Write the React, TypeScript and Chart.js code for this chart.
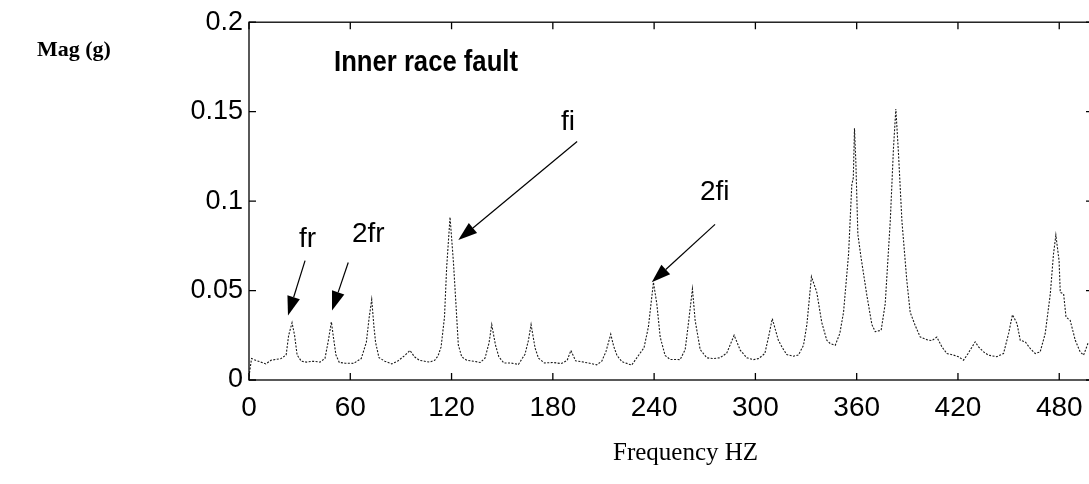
import React, { useEffect, useRef } from "react";
import { Chart, registerables } from "chart.js";

Chart.register(...registerables);

const freqs = [
  0, 1.5, 4, 7, 10, 13, 16, 19, 22, 23.5, 25.5, 27, 28.5, 31, 34, 38, 42, 45, 47, 48.8, 50, 51.5, 53.5, 57, 62, 66.5, 69.5, 71.2, 72.7, 74, 75, 77, 80.5, 84.5, 88, 92, 95.4, 98, 101, 104, 107, 110, 112, 113.8, 115.8, 117.1, 119.1, 121.1, 122.5, 124, 126, 129, 133, 137, 139.8, 142.2, 143.8, 146, 148, 151, 155, 159.6, 163.5, 165.5, 167.1, 169.5, 171.5, 175, 180, 185, 188.5, 190.7, 193.5, 197, 201, 206, 209, 211.5, 214.3, 216, 218, 221, 223.8, 226.7, 230.7, 234, 236.6, 239.6, 241.6, 243.6, 246.5, 249.5, 255.4, 258.4, 260.3, 262.7, 264.3, 267.3, 271.2, 275, 279, 283, 287.4, 291, 294.9, 298.8, 302, 305.6, 308, 310, 313.6, 316, 318.6, 322.6, 325.5, 328.5, 330.5, 333.2, 336.4, 339.3, 342.3, 344.3, 347.3, 350, 352.2, 355.2, 357.1, 358, 358.7, 359.5, 360.7, 362.5, 366, 369, 371, 374.5, 376.9, 379.9, 381.8, 383.2, 384.8, 386.8, 389.7, 391.7, 394.7, 397.6, 401.6, 404.5, 407.5, 410.5, 413.4, 417.4, 420.3, 423.3, 426, 430.2, 432.2, 435.2, 438, 443, 447, 450, 452.3, 455, 456.9, 459.9, 462.8, 465.8, 468.7, 471.7, 474.7, 476.6, 478, 479.9, 480.6, 482.6, 484, 486.5, 489.5, 492.4, 494.4, 497, 500,
];

const magnitudes = [
  0.002, 0.012, 0.011, 0.01, 0.009, 0.011, 0.0115, 0.012, 0.014, 0.025, 0.032, 0.025, 0.014, 0.0105, 0.01, 0.0105, 0.01, 0.012, 0.022, 0.0325, 0.024, 0.014, 0.0098, 0.0094, 0.0093, 0.012, 0.021, 0.035, 0.045, 0.03, 0.021, 0.0125, 0.0105, 0.009, 0.0105, 0.0135, 0.0165, 0.013, 0.011, 0.0105, 0.01, 0.011, 0.0135, 0.0185, 0.035, 0.063, 0.091, 0.066, 0.044, 0.0196, 0.013, 0.011, 0.0105, 0.0098, 0.0122, 0.0207, 0.031, 0.0196, 0.013, 0.0095, 0.0095, 0.0087, 0.0144, 0.022, 0.031, 0.0178, 0.0122, 0.0095, 0.0098, 0.0092, 0.011, 0.0165, 0.0107, 0.0102, 0.0095, 0.0085, 0.0105, 0.016, 0.0256, 0.019, 0.0137, 0.0102, 0.0093, 0.0083, 0.0137, 0.018, 0.0296, 0.0546, 0.0425, 0.024, 0.0137, 0.0115, 0.0114, 0.017, 0.0315, 0.0509, 0.0333, 0.017, 0.0124, 0.012, 0.0124, 0.015, 0.025, 0.0167, 0.0124, 0.0114, 0.012, 0.0148, 0.025, 0.0343, 0.0222, 0.018, 0.0142, 0.0133, 0.014, 0.0194, 0.031, 0.0578, 0.0489, 0.0322, 0.0222, 0.0204, 0.0194, 0.026, 0.0378, 0.0704, 0.109, 0.113, 0.1407, 0.122, 0.0815, 0.069, 0.0475, 0.031, 0.027, 0.0278, 0.0426, 0.0889, 0.1296, 0.1515, 0.126, 0.0889, 0.0556, 0.0378, 0.0304, 0.0241, 0.0225, 0.022, 0.024, 0.0185, 0.0148, 0.0139, 0.013, 0.0111, 0.0148, 0.0213, 0.0185, 0.0157, 0.0139, 0.013, 0.0148, 0.026, 0.0365, 0.0315, 0.0222, 0.0213, 0.0176, 0.0148, 0.0157, 0.026, 0.0481, 0.0704, 0.0809, 0.0667, 0.049, 0.0481, 0.0352, 0.0333, 0.0222, 0.0157, 0.0139, 0.0204, 0.022,
];

const xTickValues = [0, 60, 120, 180, 240, 300, 360, 420, 480];
const yTickValues = [0, 0.05, 0.1, 0.15, 0.2];

// annotation arrows: label, tip (freq, mag), tail (freq, mag)
const annotLabels = ["fr", "2fr", "fi", "2fi"];
const annotTipFreq = [23.1, 49.2, 124, 238.6];
const annotTipMag = [0.0361, 0.0389, 0.0782, 0.0546];
const annotTailFreq = [33.2, 58.8, 194.4, 276.1];
const annotTailMag = [0.0667, 0.0657, 0.1333, 0.087];

const SANS = "'Liberation Sans', Arial, Helvetica, sans-serif";
const SERIF = "'Liberation Serif', 'Times New Roman', serif";

const frameAndArrows = {
  id: "frameAndArrows",
  afterDraw(chart: any) {
    const { ctx, chartArea } = chart;
    const xs = chart.scales.x;
    const ys = chart.scales.y;
    ctx.save();
    ctx.strokeStyle = "#000";
    ctx.lineWidth = 1.3;
    ctx.strokeRect(chartArea.left, chartArea.top, chartArea.right - chartArea.left, chartArea.bottom - chartArea.top);
    const tl = 7;
    ctx.beginPath();
    xs.ticks.forEach((t: any) => {
      const px = xs.getPixelForValue(t.value);
      ctx.moveTo(px, chartArea.bottom);
      ctx.lineTo(px, chartArea.bottom - tl);
      ctx.moveTo(px, chartArea.top);
      ctx.lineTo(px, chartArea.top + tl);
    });
    ys.ticks.forEach((t: any) => {
      const py = ys.getPixelForValue(t.value);
      ctx.moveTo(chartArea.left, py);
      ctx.lineTo(chartArea.left + tl, py);
      ctx.moveTo(chartArea.right, py);
      ctx.lineTo(chartArea.right - tl, py);
    });
    ctx.stroke();

    // arrows
    ctx.fillStyle = "#000";
    ctx.lineWidth = 1.2;
    for (let i = 0; i < annotLabels.length; i++) {
      const x1 = xs.getPixelForValue(annotTailFreq[i]);
      const y1 = ys.getPixelForValue(annotTailMag[i]);
      const x2 = xs.getPixelForValue(annotTipFreq[i]);
      const y2 = ys.getPixelForValue(annotTipMag[i]);
      const ang = Math.atan2(y2 - y1, x2 - x1);
      const hl = 19;
      const hw = 6.5;
      const bx = x2 - hl * Math.cos(ang);
      const by = y2 - hl * Math.sin(ang);
      ctx.beginPath();
      ctx.moveTo(x1, y1);
      ctx.lineTo(bx, by);
      ctx.stroke();
      ctx.beginPath();
      ctx.moveTo(x2, y2);
      ctx.lineTo(bx + hw * Math.sin(ang), by - hw * Math.cos(ang));
      ctx.lineTo(bx - hw * Math.sin(ang), by + hw * Math.cos(ang));
      ctx.closePath();
      ctx.fill();
    }
    ctx.restore();
  },
};

const labelStyle = (left: number, top: number, size: number, extra: any = {}) => ({
  position: "absolute" as const,
  left,
  top,
  fontSize: size,
  lineHeight: 1,
  fontFamily: SANS,
  color: "#000",
  whiteSpace: "nowrap" as const,
  ...extra,
});

export default function App() {
  const ref = useRef<HTMLCanvasElement>(null);
  useEffect(() => {
    if (!ref.current) return;
    const points = freqs.map((f, i) => ({ x: f, y: magnitudes[i] }));
    const chart = new Chart(ref.current, {
      type: "line",
      data: {
        datasets: [
          {
            data: points,
            borderColor: "#1a1a1a",
            borderWidth: 1.1,
            borderDash: [2, 1.5],
            pointRadius: 0,
            tension: 0,
            fill: false,
          },
        ],
      },
      options: {
        animation: false,
        responsive: false,
        devicePixelRatio: 1,
        layout: { padding: { left: 0, right: 17, top: 20, bottom: 0 } },
        plugins: { legend: { display: false }, tooltip: { enabled: false } },
        scales: {
          x: {
            type: "linear",
            min: 0,
            max: 500,
            afterBuildTicks: (s: any) => {
              s.ticks = xTickValues.map((v) => ({ value: v }));
            },
            afterFit: (s: any) => {
              s.height = 104;
            },
            ticks: {
              font: { family: SANS, size: 28 },
              color: "#000",
              padding: 11,
              maxRotation: 0,
              autoSkip: false,
              callback: (v: any) => String(v),
            },
            grid: { display: false, drawTicks: false },
            border: { display: false },
          },
          y: {
            min: 0,
            max: 0.2,
            afterBuildTicks: (s: any) => {
              s.ticks = yTickValues.map((v) => ({ value: v }));
            },
            afterFit: (s: any) => {
              s.width = 249;
            },
            ticks: {
              font: { family: SANS, size: 27 },
              color: "#000",
              padding: 6,
              callback: (v: any) => String(Math.round(v * 100) / 100),
            },
            grid: { display: false, drawTicks: false },
            border: { display: false },
          },
        },
      },
      plugins: [frameAndArrows],
    });
    return () => chart.destroy();
  }, []);

  return (
    <div style={{ position: "fixed", left: 0, top: 0, width: 1089, height: 484, overflow: "hidden", background: "#fff" }}>
      <canvas ref={ref} width={1110} height={484} style={{ position: "absolute", left: 0, top: 0, width: 1110, height: 484 }} />
      <div style={labelStyle(37, 38, 22, { fontFamily: SERIF, fontWeight: "bold" })}>Mag (g)</div>
      <div style={labelStyle(334, 47, 29, { fontWeight: "bold", transform: "scaleX(0.885)", transformOrigin: "left top" })}>Inner race fault</div>
      <div style={labelStyle(299, 224, 28)}>fr</div>
      <div style={labelStyle(352, 219, 28)}>2fr</div>
      <div style={labelStyle(561, 107, 28)}>fi</div>
      <div style={labelStyle(700, 177, 28)}>2fi</div>
      <div style={labelStyle(613, 439, 25, { fontFamily: SERIF })}>Frequency HZ</div>
    </div>
  );
}
